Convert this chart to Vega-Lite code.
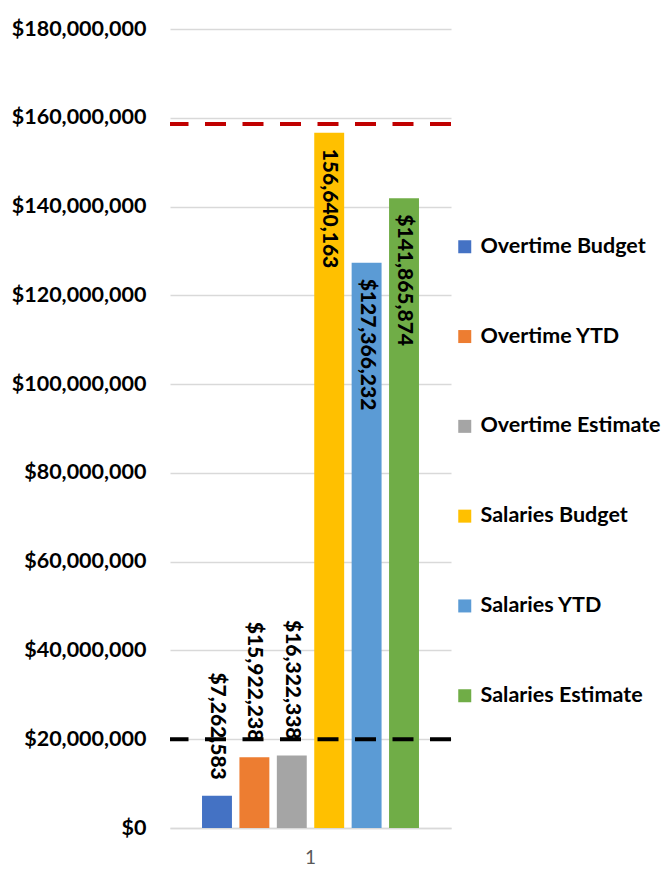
{
  "$schema": "https://vega.github.io/schema/vega-lite/v6.json",
  "autosize": {"type": "none"},
  "width": 281,
  "height": 799,
  "padding": {"left": 170, "top": 29, "right": 217, "bottom": 61},
  "background": "white",
  "config": {"view": {"stroke": null}, "font": "Lato"},
  "datasets": {
    "bars": [
      {"cat": "1", "series": "Overtime Budget", "value": 7262583, "label": "$7,262,583"},
      {"cat": "1", "series": "Overtime YTD", "value": 15922238, "label": "$15,922,238"},
      {"cat": "1", "series": "Overtime Estimate", "value": 16322338, "label": "$16,322,338"},
      {"cat": "1", "series": "Salaries Budget", "value": 156640163, "label": "156,640,163"},
      {"cat": "1", "series": "Salaries YTD", "value": 127366232, "label": "$127,366,232"},
      {"cat": "1", "series": "Salaries Estimate", "value": 141865874, "label": "$141,865,874"}
    ]
  },
  "layer": [
    {
      "data": {"name": "bars"},
      "mark": {"type": "bar"},
      "encoding": {
        "x": {
          "field": "cat", "type": "nominal",
          "scale": {"paddingOuter": 0.126, "paddingInner": 0},
          "axis": {"title": null, "labelAngle": 0, "labelFontSize": 19, "labelColor": "#595959", "labelFont": "Lato", "labelFontWeight": "normal", "ticks": false, "domainColor": "#D9D9D9", "domainWidth": 1.5, "labelPadding": 20}
        },
        "xOffset": {
          "field": "series", "type": "nominal",
          "sort": ["Overtime Budget", "Overtime YTD", "Overtime Estimate", "Salaries Budget", "Salaries YTD", "Salaries Estimate"],
          "scale": {"paddingInner": 0.2, "paddingOuter": 0.1}
        },
        "y": {
          "field": "value", "type": "quantitative",
          "scale": {"domain": [0, 180000000], "nice": false},
          "axis": {
            "title": null, "format": "$,.0f",
            "values": [0, 20000000, 40000000, 60000000, 80000000, 100000000, 120000000, 140000000, 160000000, 180000000],
            "labelFontSize": 21.5, "labelFontWeight": "bold", "labelColor": "black", "labelFont": "Lato",
            "labelPadding": 24, "ticks": false, "domain": false,
            "gridColor": "#D9D9D9", "gridWidth": 1.5
          }
        },
        "color": {
          "field": "series", "type": "nominal",
          "sort": ["Overtime Budget", "Overtime YTD", "Overtime Estimate", "Salaries Budget", "Salaries YTD", "Salaries Estimate"],
          "scale": {
            "domain": ["Overtime Budget", "Overtime YTD", "Overtime Estimate", "Salaries Budget", "Salaries YTD", "Salaries Estimate"],
            "range": ["#4472C4", "#ED7D31", "#A5A5A5", "#FFC000", "#5B9BD5", "#70AD47"]
          },
          "legend": {
            "title": null, "orient": "none", "legendX": 284, "legendY": 207,
            "symbolType": "square", "symbolSize": 169, "symbolStrokeWidth": 0,
            "labelFontSize": 21.5, "labelFontWeight": "bold", "labelFont": "Lato", "labelColor": "black",
            "labelOffset": 5, "rowPadding": 66.8, "padding": 0, "labelLimit": 300
          }
        }
      }
    },
    {
      "data": {"name": "bars"},
      "transform": [{"filter": "datum.value > 100000000"}],
      "mark": {"type": "text", "angle": 90, "align": "left", "baseline": "middle", "dx": 16, "fontSize": 21, "fontWeight": 900, "font": "Lato", "color": "black"},
      "encoding": {
        "x": {"field": "cat", "type": "nominal"},
        "xOffset": {"field": "series", "type": "nominal", "sort": ["Overtime Budget", "Overtime YTD", "Overtime Estimate", "Salaries Budget", "Salaries YTD", "Salaries Estimate"]},
        "y": {"field": "value", "type": "quantitative"},
        "text": {"field": "label", "type": "nominal"}
      }
    },
    {
      "data": {"name": "bars"},
      "transform": [{"filter": "datum.value <= 100000000"}],
      "mark": {"type": "text", "angle": 90, "align": "right", "baseline": "middle", "dx": -16, "fontSize": 21, "fontWeight": 900, "font": "Lato", "color": "black"},
      "encoding": {
        "x": {"field": "cat", "type": "nominal"},
        "xOffset": {"field": "series", "type": "nominal", "sort": ["Overtime Budget", "Overtime YTD", "Overtime Estimate", "Salaries Budget", "Salaries YTD", "Salaries Estimate"]},
        "y": {"field": "value", "type": "quantitative"},
        "text": {"field": "label", "type": "nominal"}
      }
    },
    {
      "data": {"values": [{"limit": 158600000}]},
      "mark": {"type": "rule", "color": "#C00000", "strokeWidth": 4, "strokeDash": [21, 16.5]},
      "encoding": {"y": {"field": "limit", "type": "quantitative"}}
    },
    {
      "data": {"values": [{"limit": 20000000}]},
      "mark": {"type": "rule", "color": "black", "strokeWidth": 4, "strokeDash": [21, 16.5]},
      "encoding": {"y": {"field": "limit", "type": "quantitative"}}
    }
  ]
}
